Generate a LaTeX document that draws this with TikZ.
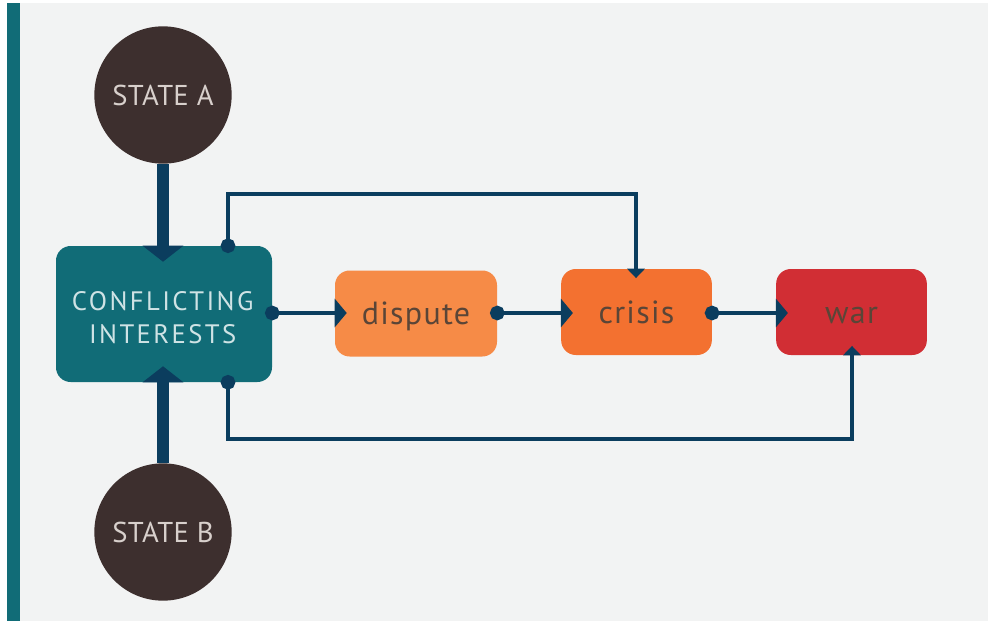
\documentclass[tikz,border=0pt]{standalone}
\usepackage{fontspec}
\setmainfont{PT Sans}
\usetikzlibrary{arrows.meta,positioning}
\definecolor{bg}{HTML}{F2F3F3}
\definecolor{tealbar}{HTML}{116C77}
\definecolor{tealbox}{HTML}{116C77}
\definecolor{navy}{HTML}{0B3D5E}
\definecolor{statec}{HTML}{3D2F2E}
\definecolor{statetxt}{HTML}{D8D0CC}
\definecolor{citxt}{HTML}{CFE3E5}
\definecolor{dispc}{HTML}{F68B47}
\definecolor{crisc}{HTML}{F37130}
\definecolor{warc}{HTML}{D12E34}
\definecolor{boxtxt}{HTML}{5A4537}
\tikzset{
  statenode/.style={circle, fill=statec, minimum size=103pt, inner sep=0pt,
     text=statetxt, font=\fontsize{21.5}{26}\selectfont\addfontfeatures{LetterSpace=1}},
  stagebox/.style={rounded corners=11pt, inner sep=0pt, text=boxtxt,
     font=\fontsize{24}{28}\selectfont\addfontfeatures{LetterSpace=4},
     minimum height=64.5pt, text height=17pt, text depth=0pt},
  thinline/.style={draw=navy, line width=2.6pt},
  thickline/.style={draw=navy, line width=9pt},
  flow/.style={thinline, arrows={Circle[length=11pt]-Triangle[length=9pt,width=21pt]},
     shorten <=-5.5pt, shorten >=-9pt},
  feedback/.style={thinline, arrows={Circle[length=11pt]-Triangle[length=7pt,width=13pt]},
     shorten <=-5.5pt, shorten >=-7pt},
  bigarrow/.style={thickline, -{Triangle[length=12pt,width=30pt]}, shorten >=-12pt},
}
\begin{document}
\begin{tikzpicture}[x=0.75pt,y=-0.75pt]
\useasboundingbox (0,0) rectangle (988,621);
\fill[white] (0,0) rectangle (988,621);
\fill[bg] (20,3) rectangle (988,621);
\fill[tealbar] (7,3) rectangle (20,621);

\node[statenode] (A) at (163,95) {STATE A};
\node[statenode] (B) at (163,532) {STATE B};

\node[rounded corners=11pt, fill=tealbox, minimum width=162pt, minimum height=102pt,
  inner sep=0pt] (CI) at (164,314) {};
\node[text=citxt, align=center, inner sep=0pt,
  font=\fontsize{20}{24.8}\selectfont\addfontfeatures{LetterSpace=9}]
  (CItext) at ([yshift=-2.5pt,xshift=-1pt]CI.center) {CONFLICTING\\INTERESTS};
\node[stagebox, fill=dispc, minimum width=121.5pt] (D) at (416,313.5) {dispute};
\node[stagebox, fill=crisc, minimum width=113pt] (C) at (636.5,312) {crisis};
\node[stagebox, fill=warc, minimum width=113pt] (W) at (851.5,312) {war};

\coordinate (topcorner) at (228,194);
\coordinate (topright) at (636,194);
\coordinate (botcorner) at (228,439);
\coordinate (botright) at (852,439);

% thick connectors
\draw[bigarrow] (A.south) -- (CI.north -| A.south);
\draw[bigarrow] (B.north) -- (CI.south -| B.north);

% main flow
\draw[flow] (CI.east |- 0,313) -- (D.west |- 0,313);
\draw[flow] (D.east |- 0,313) -- (C.west |- 0,313);
\draw[flow] (C.east |- 0,313) -- (W.west |- 0,313);

% feedback loops
\draw[feedback] (CI.north -| topcorner) -- (topcorner) -- (topright) -- (C.north -| topright);
\draw[feedback] (CI.south -| botcorner) -- (botcorner) -- (botright) -- (W.south -| botright);
\end{tikzpicture}
\end{document}
